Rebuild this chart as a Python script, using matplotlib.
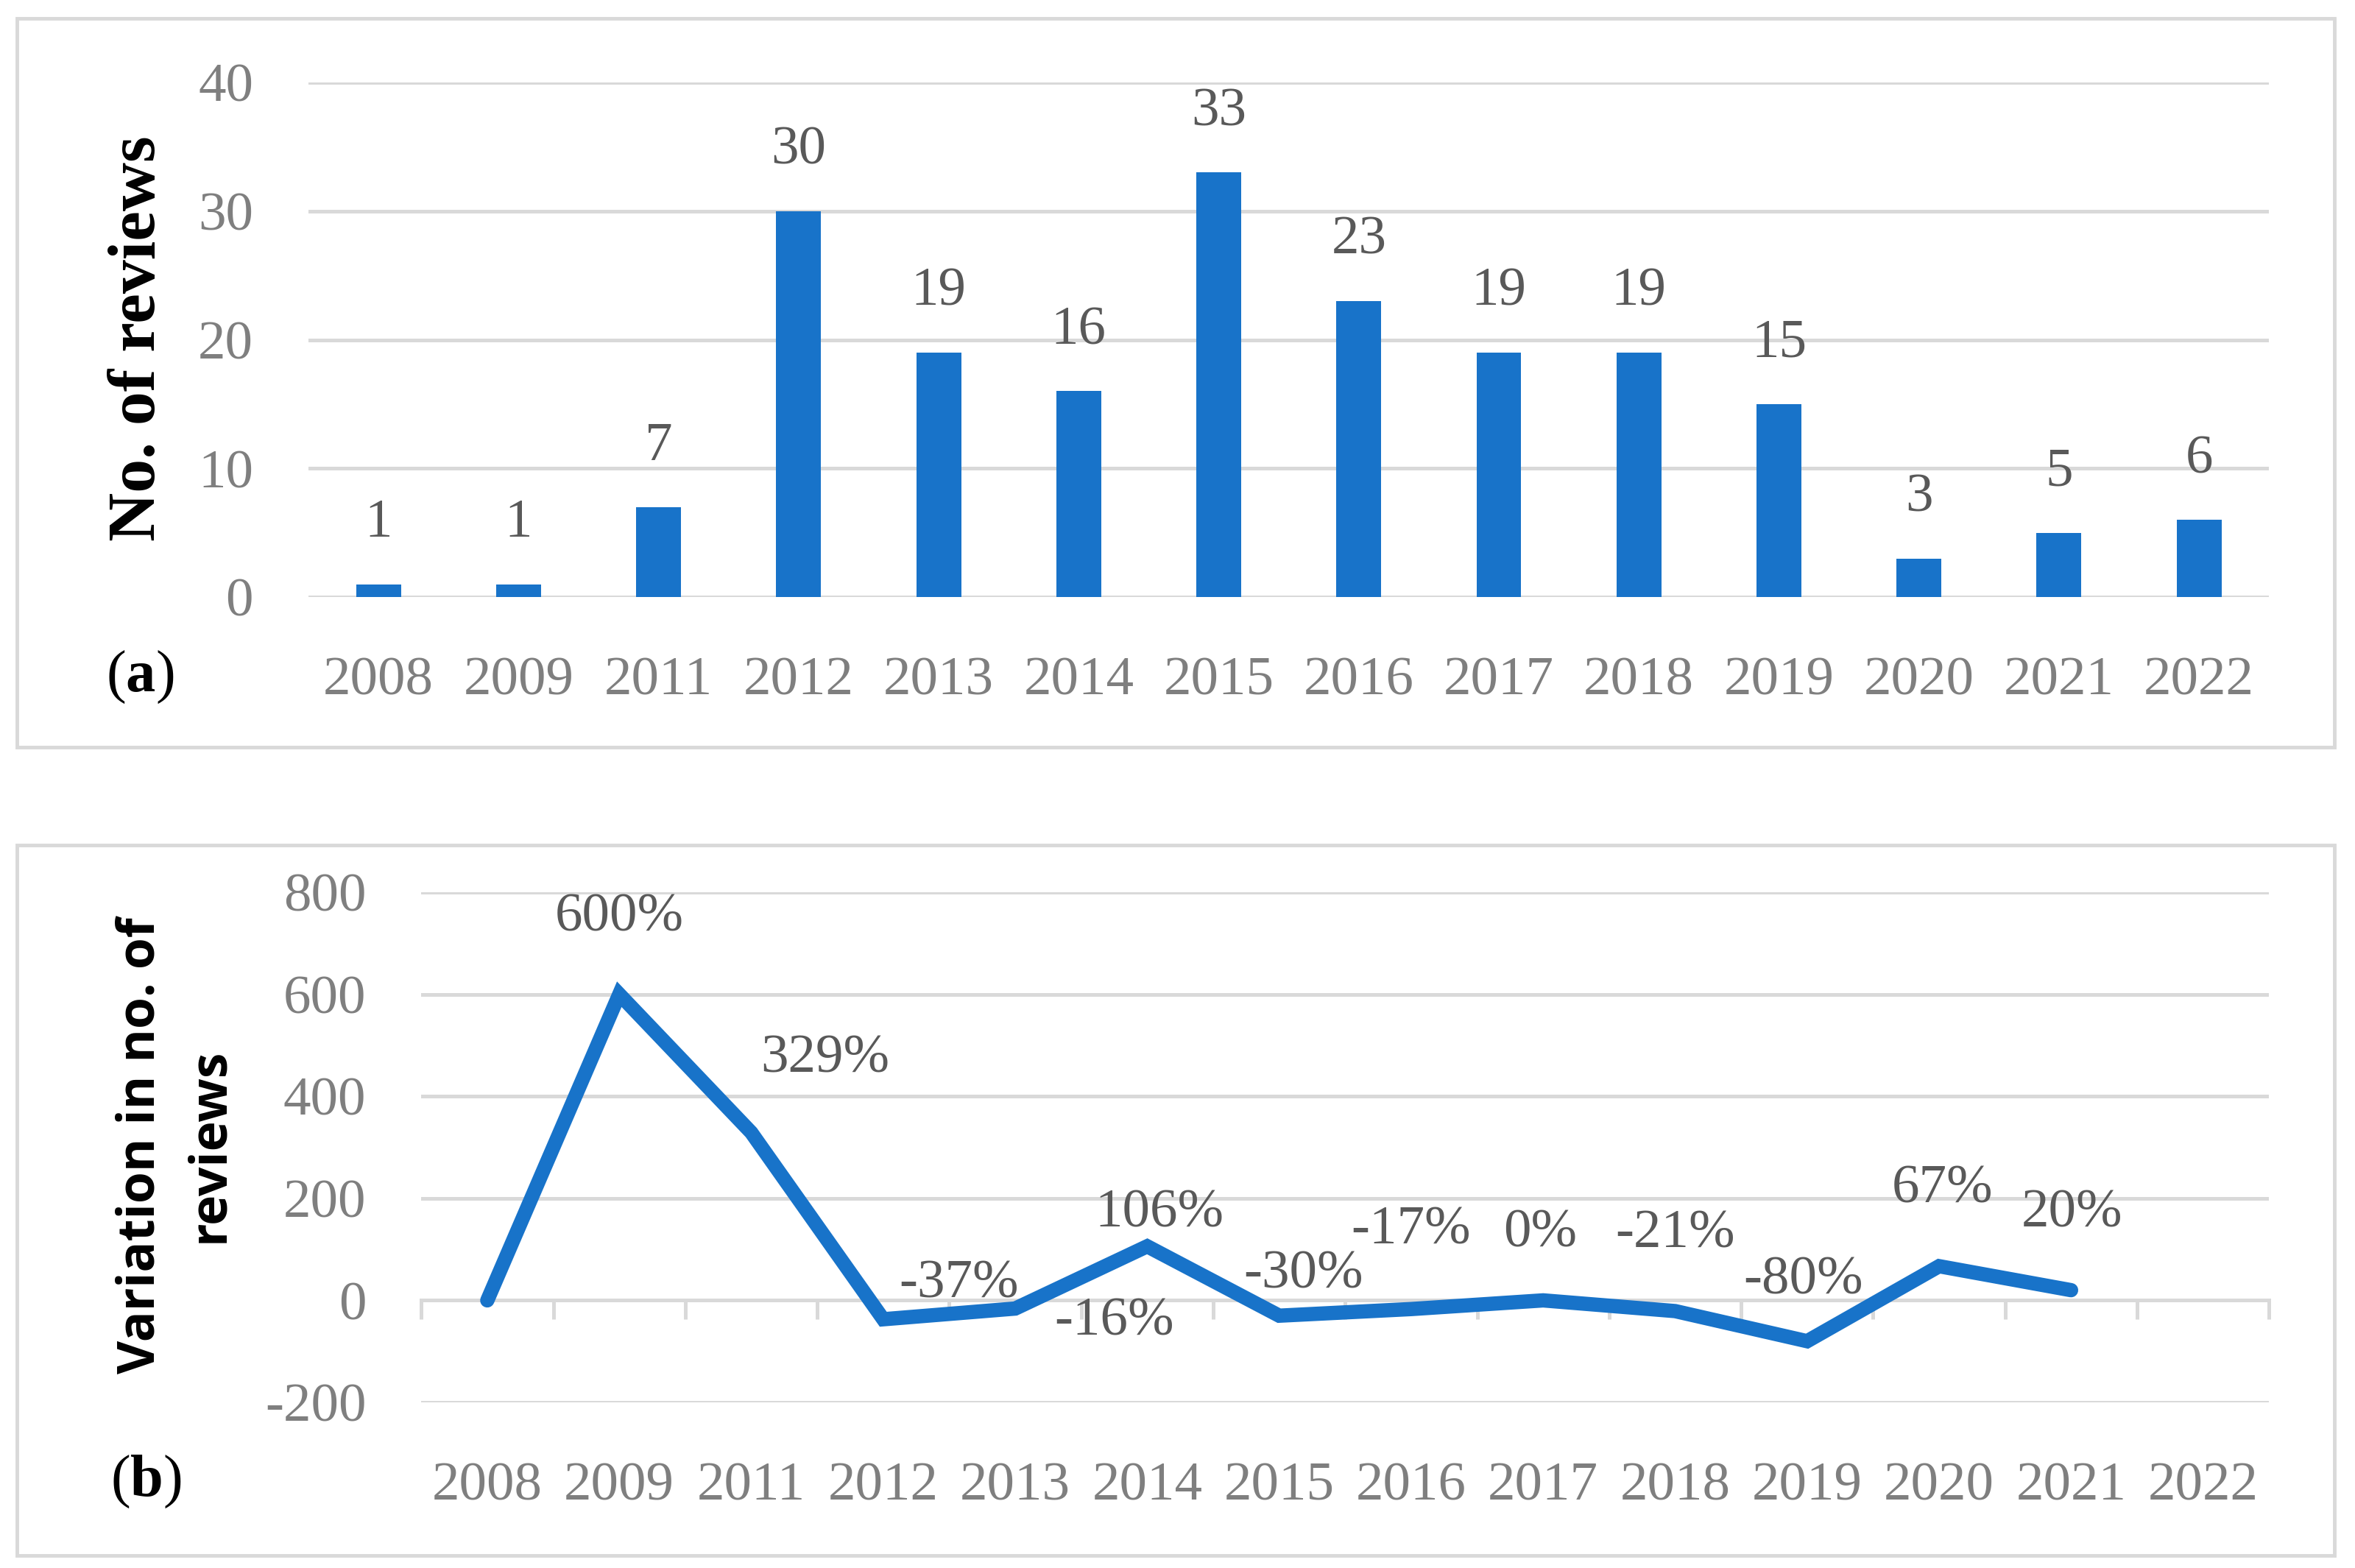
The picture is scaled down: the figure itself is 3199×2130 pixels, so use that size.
import numpy as np
import matplotlib
matplotlib.use('Agg')
import matplotlib.pyplot as plt
from matplotlib.patches import Rectangle

plt.rcParams['font.family'] = ['Liberation Serif', 'DejaVu Serif']
plt.rcParams['mathtext.fontset'] = 'custom'
plt.rcParams['mathtext.bf'] = 'Liberation Serif:bold'
plt.rcParams['mathtext.rm'] = 'Liberation Serif'
plt.rcParams['axes.unicode_minus'] = False

# data
years = ['2008', '2009', '2011', '2012', '2013', '2014', '2015',
         '2016', '2017', '2018', '2019', '2020', '2021', '2022']
reviews = [1, 1, 7, 30, 19, 16, 33, 23, 19, 19, 15, 3, 5, 6]
variation = [0, 600, 329, -37, -16, 106, -30, -17, 0, -21, -80, 67, 20, np.nan]
var_labels = [None, '600%', '329%', '-37%', '-16%', '106%', '-30%',
              '-17%', '0%', '-21%', '-80%', '67%', '20%', None]
# label offsets in points (dx, dy)
var_offsets = [(0, 0), (0, 75), (72, 72), (74, 34), (97, -13), (12, 32), (24, 40),
               (0, 77), (-3, 65), (0, 75), (-4, 59), (3, 75), (1, 75), (0, 0)]

blue = '#1873C9'
grid_c = '#D9D9D9'
tick_c = '#7F7F7F'
lab_c = '#595959'
fs = 54

fig = plt.figure(figsize=(31.99, 21.30), dpi=100)

# panel boxes
for (y0, h) in [(0.5235, 0.4648), (0.0080, 0.4530)]:
    fig.patches.append(Rectangle((0.0072, y0), 0.984, h, transform=fig.transFigure,
                                 fill=False, edgecolor=grid_c, linewidth=3.5))

x = np.arange(len(years))

# (a) bar chart
ax1 = fig.add_axes([0.131, 0.6192, 0.8325, 0.3282])
ax1.bar(x, reviews, width=0.32, color=blue, zorder=3)
ax1.set_xlim(-0.5, len(years) - 0.5)
ax1.set_ylim(0, 40)
ax1.set_yticks([0, 10, 20, 30, 40])
ax1.set_xticks(x)
ax1.set_xticklabels(years)
ax1.grid(axis='y', color=grid_c, linewidth=3.6, zorder=0)
ax1.set_axisbelow(True)
for s in ax1.spines.values():
    s.set_visible(False)
ax1.tick_params(axis='both', length=0, labelsize=fs, labelcolor=tick_c)
ax1.tick_params(axis='x', pad=58)
ax1.tick_params(axis='y', pad=54)
for xi, v in zip(x, reviews):
    ax1.annotate(str(v), (xi, v), xytext=(0, 59), textcoords='offset points',
                 ha='center', va='center', fontsize=fs, color=lab_c)

# (b) line chart
ax2 = fig.add_axes([0.1789, 0.1056, 0.7846, 0.3254])
ax2.plot(x, variation, color=blue, linewidth=14, solid_capstyle='round',
         solid_joinstyle='miter', zorder=3)
ax2.set_xlim(-0.5, len(years) - 0.5)
ax2.set_ylim(-200, 800)
ax2.set_yticks([-200, 0, 200, 400, 600, 800])
ax2.set_xticks(x)
ax2.set_xticklabels(years)
ax2.grid(axis='y', color=grid_c, linewidth=3.6, zorder=0)
ax2.set_axisbelow(True)
for s in ax2.spines.values():
    s.set_visible(False)
ax2.tick_params(axis='both', length=0, labelsize=fs, labelcolor=tick_c)
ax2.tick_params(axis='x', pad=58)
ax2.tick_params(axis='y', pad=54)

# category boundary ticks on the zero line
sec = ax2.secondary_xaxis(0.2)
sec.set_xticks(np.arange(-0.5, len(years), 1.0))
sec.set_xticklabels([])
sec.tick_params(axis='x', length=19, width=3.6, color=grid_c, direction='out')
sec.spines['bottom'].set_color(grid_c)
sec.spines['bottom'].set_linewidth(3.6)

for xi, v, lab, off in zip(x, variation, var_labels, var_offsets):
    if lab is None:
        continue
    ax2.annotate(lab, (xi, v), xytext=off, textcoords='offset points',
                 ha='center', va='center', fontsize=fs, color=lab_c, zorder=4)

# axis titles and panel letters
fig.text(0.0588, 0.784, 'No. of reviews', rotation=90, ha='center', va='center',
         fontsize=66, fontweight='bold', color='black')
fig.text(0.0745, 0.2695, 'Variation in no. of\nreviews', rotation=90, ha='center',
         va='center', fontsize=50, fontweight='bold', family='Open Sans',
         linespacing=1.43, color='black')
fig.text(0.0595, 0.568, r'($\mathbf{a}$)', ha='center', va='center', fontsize=58)
fig.text(0.062, 0.055, r'($\mathbf{b}$)', ha='center', va='center', fontsize=58)

fig.savefig('out.png', dpi=100)
